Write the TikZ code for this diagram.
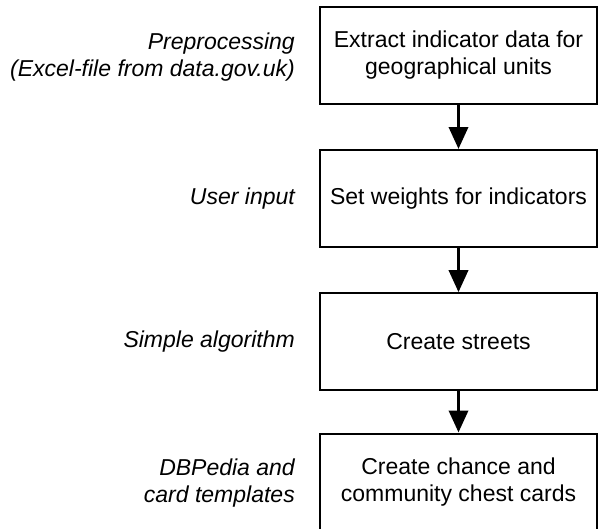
\documentclass[tikz,border=0pt]{standalone}
\usepackage{fontspec}
\setmainfont{Liberation Sans}
\usetikzlibrary{arrows.meta}
\begin{document}
\begin{tikzpicture}[x=1pt,y=-1pt,
  stepbox/.style={draw, line width=2pt, minimum width=277pt, minimum height=97pt, inner sep=0pt,
    align=center, font=\fontsize{23}{27.5}\selectfont},
  sidelabel/.style={anchor=east, inner sep=0pt, align=right, font=\fontsize{23}{27.5}\selectfont\itshape},
  flow/.style={line width=3.5pt, -{Triangle[length=22pt,width=19pt]}}]
\useasboundingbox (0,0) rectangle (605,528);
\node[stepbox] (b1) at (458.5,55) {Extract indicator data for\\geographical units};
\node[stepbox] (b2) at (458.5,198.5) {Set weights for indicators};
\node[stepbox] (b3) at (458.5,341.7) {Create streets};
\node[stepbox] (b4) at (458.5,482) {Create chance and\\community chest cards};
\node[sidelabel] (l1) at (295,57) {Preprocessing\\(Excel-file from data.gov.uk)};
\node[sidelabel] (l2) at (295,199) {User input};
\node[sidelabel] (l3) at (295,342) {Simple algorithm};
\node[sidelabel] (l4) at (295,483) {DBPedia and\\card templates};
\draw[flow] (b1.south) -- (b2.north);
\draw[flow] (b2.south) -- (b3.north);
\draw[flow] (b3.south) -- (b4.north);
\end{tikzpicture}
\end{document}
